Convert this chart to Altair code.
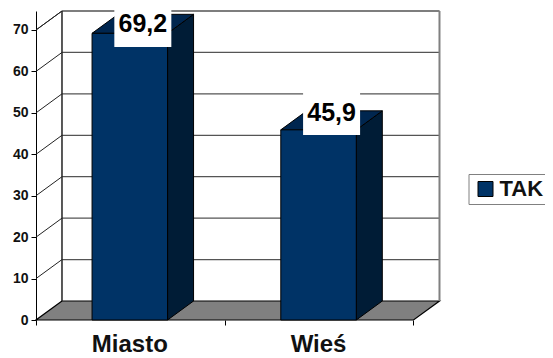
import altair as alt
import pandas as pd

FONT = "Liberation Sans"
categories = ["Miasto", "Wieś"]
values = [69.2, 45.9]
labels = ["69,2", "45,9"]
centers = [0.497, 1.497]
box_bottom = [65.9, 44.65]
box_top = [77.2, 56.0]
label_y = [71.4, 50.0]
label_x = [0.566, 1.566]
ticks = [0, 10, 20, 30, 40, 50, 60, 70]
half_bar = 0.2
depth_x = 0.1377
depth_y = 4.586
x_max = 2.6967
y_max = 74.586
n_cat = 2
series = "TAK"

FRONT, TOP, SIDE, FLOOR = "#003366", "#00264f", "#001c36", "#808080"

xs = alt.Scale(domain=[0, x_max], zero=False, nice=False)
ys = alt.Scale(domain=[0, y_max], zero=False, nice=False)
x_axis = alt.Axis(values=list(range(n_cat + 1)), labels=False, grid=False, domainColor="#000000",
                  tickColor="#000000", tickSize=5, title=None, domain=False)
y_axis = alt.Axis(values=ticks, grid=False, domainColor="#000000", tickColor="#000000", tickSize=5,
                  labelFont=FONT, labelFontWeight="bold", labelFontSize=14, labelColor="#111111",
                  labelPadding=3, title=None)
X = lambda f: alt.X(f, type="quantitative", scale=xs, axis=x_axis, stack=None)
Y = lambda f: alt.Y(f, type="quantitative", scale=ys, axis=y_axis, stack=None)
X2 = lambda f: alt.X2(f)
Y2 = lambda f: alt.Y2(f)

floor_df = pd.DataFrame({
    "y": [0, depth_y],
    "a": [0, depth_x],
    "b": [n_cat, n_cat + depth_x],
})
floor = alt.Chart(floor_df).mark_area(orient="horizontal", fill=FLOOR, stroke="#000000", strokeWidth=1.2).encode(
    y=Y("y"), x=X("a"), x2=X2("b"))

grid_df = pd.DataFrame({"v": ticks[1:] + [70]})
grid_df["v2"] = grid_df["v"] + depth_y
grid_df["a"] = depth_x
grid_df["b"] = n_cat + depth_x
grid_df["o"] = 0.0
back = alt.Chart(grid_df).mark_rule(color="#555555", strokeWidth=1.2).encode(
    x=X("a"), x2=X2("b"), y=Y("v2"))
sidegrid = alt.Chart(grid_df).mark_rule(color="#222222", strokeWidth=1).encode(
    x=X("o"), x2=X2("a"), y=Y("v"), y2=Y2("v2"))

edge_df = pd.DataFrame({"x": [depth_x, n_cat + depth_x], "y": [depth_y] * 2, "y2": [y_max] * 2,
                        "c": ["#222222", "#808080"], "w": [1.5, 2.0]})
edges = alt.Chart(edge_df).mark_rule().encode(
    x=X("x"), y=Y("y"), y2=Y2("y2"),
    color=alt.Color("c:N", scale=None), strokeWidth=alt.StrokeWidth("w:Q", scale=None))

bars_df = pd.DataFrame({"cat": categories, "v": values, "c": centers, "series": [series] * 2})
bars_df["l"] = bars_df["c"] - half_bar
bars_df["r"] = bars_df["c"] + half_bar
bars_df["zero"] = 0.0

front = alt.Chart(bars_df).mark_rect(stroke="#000000", strokeWidth=1).encode(
    x=X("l"), x2=X2("r"), y=Y("zero"), y2=Y2("v"),
    color=alt.Color("series:N", scale=alt.Scale(domain=[series], range=[FRONT]), legend=alt.Legend(
        orient="none", legendX=432.5, legendY=163, title=None, fillColor="#ffffff",
        strokeColor="#808080", padding=4, symbolType="square", symbolSize=225,
        symbolStrokeColor="#000000", symbolStrokeWidth=1, symbolOffset=2,
        labelFont=FONT, labelFontWeight="bold", labelFontSize=22, labelColor="#111111",
        labelOffset=3, labelLimit=100)),
)

rows_side, rows_top = [], []
for cat, v, c in zip(categories, values, centers):
    r = c + half_bar
    l = c - half_bar
    rows_side += [{"cat": cat, "x": r, "y": 0, "y2": v},
                  {"cat": cat, "x": r + depth_x, "y": depth_y, "y2": v + depth_y}]
    rows_top += [{"cat": cat, "y": v, "a": l, "b": r},
                 {"cat": cat, "y": v + depth_y, "a": l + depth_x, "b": r + depth_x}]

side = alt.Chart(pd.DataFrame(rows_side)).mark_area(fill=SIDE, stroke="#000000", strokeWidth=1).encode(
    x=X("x"), y=Y("y"), y2=Y2("y2"), detail="cat:N")
top = alt.Chart(pd.DataFrame(rows_top)).mark_area(orient="horizontal", fill=TOP, stroke="#000000", strokeWidth=1).encode(
    y=Y("y"), x=X("a"), x2=X2("b"), detail="cat:N")

lab_df = pd.DataFrame({"t": labels, "x": label_x, "y": label_y, "b0": box_bottom, "b1": box_top})
lab_df["l"] = lab_df["x"] - 0.151
lab_df["r"] = lab_df["x"] + 0.151
boxes = alt.Chart(lab_df).mark_rect(fill="#ffffff").encode(
    x=X("l"), x2=X2("r"), y=Y("b0"), y2=Y2("b1"))
texts = alt.Chart(lab_df).mark_text(font=FONT, fontWeight="bold", fontSize=25, color="#000000",
                                    baseline="middle", align="center").encode(
    x=X("x"), y=Y("y"), text="t:N")

cat_df = pd.DataFrame({"t": categories, "x": centers, "y": [0.0, 0.0]})
cats = alt.Chart(cat_df).mark_text(font=FONT, fontWeight="bold", fontSize=24, color="#111111",
                                   baseline="alphabetic", align="center", dy=32).encode(
    x=X("x"), y=Y("y"), text="t:N")

chart = alt.layer(floor, back, sidegrid, edges, side, top, front, boxes, texts, cats).properties(
    width=509, height=309,
    autosize=alt.AutoSizeParams(type="none"),
    padding={"left": 28, "top": 3, "right": 0, "bottom": 38},
    background="#ffffff",
).configure_view(stroke=None)

chart.save("out.html", embed_options={"renderer": "svg", "actions": False})
